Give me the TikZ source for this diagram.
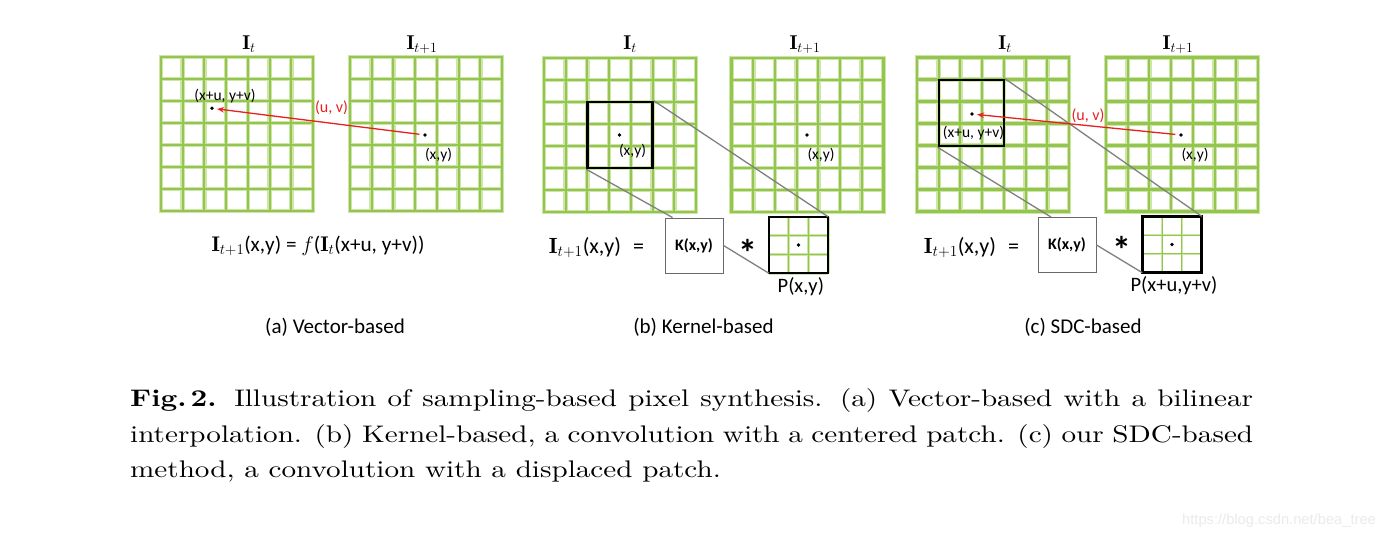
\RequirePackage{fix-cm}
\documentclass[tikz,border=0pt]{standalone}
\usepackage{fontspec}
\usepackage{graphicx}
\usetikzlibrary{arrows.meta,calc}
\newfontfamily\calib{Carlito}
\newfontfamily\capfont{lmroman10-regular}[Extension=.otf,BoldFont=lmroman10-bold,FakeStretch=1.215]
\newfontfamily\wmfont{Liberation Sans}
\definecolor{gout}{RGB}{205,230,165}
\definecolor{gin}{RGB}{148,197,80}
\definecolor{redarr}{RGB}{232,32,32}
\definecolor{linegray}{RGB}{128,128,128}
\definecolor{kgray}{RGB}{105,105,105}
\tikzset{
  gridbox/.style={minimum width=152pt,minimum height=154pt,inner sep=0pt,outer sep=0pt},
  gouter/.style={draw=gout,line width=4.6pt,line cap=rect},
  ginner/.style={draw=gin,line width=2.1pt,line cap=rect},
  pouter/.style={draw=gout,line width=2.6pt},
  pinner/.style={draw=gin,line width=1.1pt},
  dot/.style={circle,fill=black,minimum size=3.8pt,inner sep=0pt},
  lbl/.style={font=\calib\fontsize{15.5}{17}\selectfont,inner sep=0pt},
  redlbl/.style={lbl,text=redarr,font=\calib\fontsize{16}{18}\selectfont},
  title/.style={font=\fontsize{20}{24}\selectfont,inner sep=0pt,anchor=base},
  formula/.style={font=\calib\fontsize{21.2}{25}\selectfont,inner sep=0pt,anchor=base},
  formulab/.style={font=\calib\fontsize{22}{26}\selectfont,inner sep=0pt,anchor=base},
  sub/.style={font=\calib\fontsize{21}{24}\selectfont,inner sep=0pt,anchor=base},
  blackbox/.style={draw=black,line width=2.5pt,inner sep=0pt,minimum width=65.1pt,minimum height=66pt},
  kbox/.style={draw=kgray,line width=1pt,fill=white,inner sep=0pt,minimum width=58pt,minimum height=55pt,font=\calib\bfseries\fontsize{16}{18}\selectfont},
  pbox/.style={inner sep=0pt,minimum width=59pt,minimum height=56pt},
  plabel/.style={font=\calib\fontsize{20.5}{23}\selectfont,inner sep=0pt,anchor=base},
  ast/.style={font=\calib\bfseries\fontsize{38}{40}\selectfont,inner sep=0pt,anchor=base},
  redarrow/.style={draw=redarr,line width=1.3pt,-{Stealth[length=7pt,width=5.5pt]},shorten <=3.5pt,shorten >=3pt},
  zoomline/.style={draw=linegray,line width=1.3pt},
}
\newcommand\greengrid[1]{%
  \foreach \i in {0,...,7}{%
    \draw[gouter] ($(#1.north west)!\i/7!(#1.north east)$) -- ($(#1.south west)!\i/7!(#1.south east)$);
    \draw[gouter] ($(#1.north west)!\i/7!(#1.south west)$) -- ($(#1.north east)!\i/7!(#1.south east)$);
  }%
  \foreach \i in {0,...,7}{%
    \draw[ginner] ($(#1.north west)!\i/7!(#1.north east)$) -- ($(#1.south west)!\i/7!(#1.south east)$);
    \draw[ginner] ($(#1.north west)!\i/7!(#1.south west)$) -- ($(#1.north east)!\i/7!(#1.south east)$);
  }%
}
\newcommand\patchgrid[1]{%
  \foreach \i in {0,...,3}{%
    \draw[pouter] ($(#1.north west)!\i/3!(#1.north east)$) -- ($(#1.south west)!\i/3!(#1.south east)$);
    \draw[pouter] ($(#1.north west)!\i/3!(#1.south west)$) -- ($(#1.north east)!\i/3!(#1.south east)$);
  }%
  \foreach \i in {0,...,3}{%
    \draw[pinner] ($(#1.north west)!\i/3!(#1.north east)$) -- ($(#1.south west)!\i/3!(#1.south east)$);
    \draw[pinner] ($(#1.north west)!\i/3!(#1.south west)$) -- ($(#1.north east)!\i/3!(#1.south east)$);
  }%
  \draw[line width=2.5pt] (#1.north west) rectangle (#1.south east);
}
\begin{document}
\begin{tikzpicture}[x=1pt,y=-1pt]
\useasboundingbox (0,0) rectangle (1386,540);
\fill[white] (0,0) rectangle (1386,540);

% grids
\node[gridbox] (aT) at (237,134) {};
\node[gridbox] (aN) at (426,134) {};
\node[gridbox] (bT) at (620,135) {};
\node[gridbox] (bN) at (807.5,135) {};
\node[gridbox] (cT) at (993,134.5) {};
\node[gridbox] (cN) at (1182,134.5) {};
\greengrid{aT}\greengrid{aN}\greengrid{bT}\greengrid{bN}\greengrid{cT}\greengrid{cN}

% titles
\node[title] (taT) at (249,50) {$\mathbf{I}_t$};
\node[title] (taN) at (422,50) {$\mathbf{I}_{t+1}$};
\node[title] (tbT) at (630,50) {$\mathbf{I}_t$};
\node[title] (tbN) at (805,50) {$\mathbf{I}_{t+1}$};
\node[title] (tcT) at (1005,50) {$\mathbf{I}_t$};
\node[title] (tcN) at (1178,50) {$\mathbf{I}_{t+1}$};

% black patch boxes in I_t
\node[blackbox] (bB) at (620,135) {};
\node[blackbox] (cB) at (971.3,113) {};

% dots
\node[dot] (adT) at (212,108.3) {};
\node[dot] (adN) at (425,135) {};
\node[dot] (bdT) at (619.5,135) {};
\node[dot] (bdN) at (807,135) {};
\node[dot] (cdT) at (972,114) {};
\node[dot] (cdN) at (1181,135) {};

% point labels
\node[lbl] (laT) at (225,96) {(x+u, y+v)};
\node[lbl] (laN) at (438.5,155) {(x,y)};
\node[redlbl] (luva) at (331.5,107.5) {(u, v)};
\node[lbl] (lbT) at (632.5,151) {(x,y)};
\node[lbl] (lbN) at (821,155) {(x,y)};
\node[lbl] (lcT) at (973.5,133.5) {(x+u, y+v)};
\node[lbl] (lcN) at (1195,155) {(x,y)};
\node[redlbl] (luvc) at (1088,115.5) {(u, v)};

% kernel and patch boxes
\node[kbox] (bK) at (694,245.5) {K(x,y)};
\node[kbox] (cK) at (1067,245) {K(x,y)};
\node[pbox] (bP) at (798.5,245) {};
\node[pbox] (cP) at (1172,244.5) {};
\patchgrid{bP}\patchgrid{cP}
\node[dot] (bdP) at (bP) {};
\node[dot] (cdP) at (cP) {};

% zoom lines
\coordinate (bKt) at ($(bK.north west)+(8,0)$);
\coordinate (cKt) at ($(cK.north west)+(13.5,0)$);
\draw[zoomline] (bB.north east) -- (bP.north east);
\draw[zoomline] (bB.south west) -- (bKt);
\draw[zoomline] (bK.east) -- (bP.south west);
\draw[zoomline] (cB.north east) -- (cP.north east);
\draw[zoomline] (cB.south west) -- (cKt);
\draw[zoomline] (cK.east) -- (cP.south west);

% red displacement arrows
\draw[redarrow] (adN) -- (adT);
\draw[redarrow] (cdN) -- (cdT);

% formulas
\node[formula] (fa) at (318,251) {$\mathbf{I}_{t+1}$(x,y) = $f$($\mathbf{I}_t$(x+u, y+v))};
\node[formulab] (fb) at (596.5,253) {$\mathbf{I}_{t+1}$(x,y)\hspace{0.55em}=};
\node[formulab] (fc) at (971.5,253) {$\mathbf{I}_{t+1}$(x,y)\hspace{0.55em}=};
\node[ast] (sb) at (748,266) {*};
\node[ast] (sc) at (1122,263) {*};
\node[plabel] (pb) at (800.8,292) {P(x,y)};
\node[plabel] (pc) at (1174,291) {P(x+u,y+v)};

% sub captions
\node[sub] (la) at (335,333) {(a) Vector-based};
\node[sub] (lb) at (703.5,333) {(b) Kernel-based};
\node[sub] (lc) at (1083,333) {(c) SDC-based};

% caption
\node[anchor=north west,inner sep=0pt,text width=1123pt,align=justify,
      font=\capfont\fontsize{24}{35.5}\selectfont] (cap) at (130,388.5)
  {\textbf{Fig.\,2.} Illustration of sampling-based pixel synthesis. (a) Vector-based with a bilinear\linebreak
   interpolation. (b) Kernel-based, a convolution with a centered patch. (c) our SDC-based\linebreak
   method, a convolution with a displaced patch.};

% watermark
\node[font=\wmfont\fontsize{14.7}{16}\selectfont,text=black!8,inner sep=0pt] (wm) at (1279,521) {https://blog.csdn.net/bea\_tree};
\end{tikzpicture}
\end{document}
